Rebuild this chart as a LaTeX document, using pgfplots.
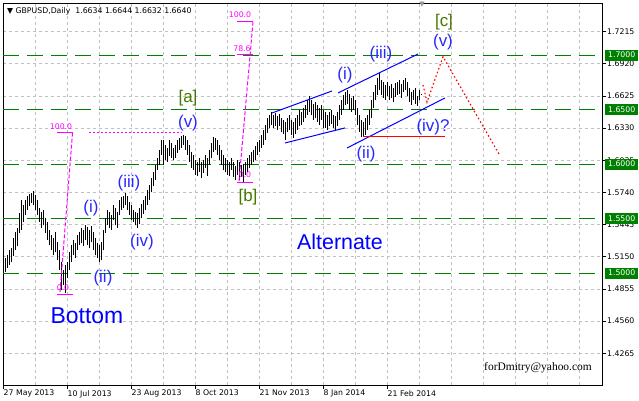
\documentclass[border=0pt]{standalone}
\usepackage{pgfplots}
\usepackage{pgfplotstable}
\pgfplotsset{compat=1.18}
\usepackage{fontspec}
\setmainfont{DejaVu Sans}
\newfontfamily\arial{Liberation Sans}
\newfontfamily\tnr{Liberation Serif}
\definecolor{mtgreen}{RGB}{0,128,0}
\definecolor{wblue}{RGB}{40,40,255}
\definecolor{olv}{RGB}{70,120,0}
\definecolor{mag}{RGB}{255,0,255}
\definecolor{gridgray}{RGB}{192,192,192}
\newcommand{\tf}{\fontsize{7.8}{9}\selectfont}
\pgfplotstableread{
i lo hi
0 1.5010 1.5135
1 1.5043 1.5163
2 1.5071 1.5209
3 1.5098 1.5227
4 1.5153 1.5319
5 1.5209 1.5374
6 1.5245 1.5411
7 1.5365 1.5549
8 1.5393 1.5668
9 1.5466 1.5622
10 1.5530 1.5668
11 1.5576 1.5705
12 1.5613 1.5723
13 1.5640 1.5732
14 1.5622 1.5751
15 1.5576 1.5714
16 1.5530 1.5668
17 1.5466 1.5595
18 1.5411 1.5558
19 1.5438 1.5576
20 1.5365 1.5503
21 1.5301 1.5466
22 1.5255 1.5393
23 1.5209 1.5347
24 1.5163 1.5319
25 1.5190 1.5374
26 1.5117 1.5282
27 1.5025 1.5209
28 1.4841 1.5098
29 1.4887 1.5025
30 1.4814 1.5071
31 1.4951 1.5098
32 1.5025 1.5190
33 1.5098 1.5255
34 1.5163 1.5301
35 1.5135 1.5273
36 1.5209 1.5347
37 1.5255 1.5374
38 1.5273 1.5411
39 1.5245 1.5393
40 1.5301 1.5438
41 1.5255 1.5420
42 1.5227 1.5393
43 1.5282 1.5429
44 1.5209 1.5374
45 1.5163 1.5319
46 1.5135 1.5273
47 1.5098 1.5255
48 1.5117 1.5282
49 1.5209 1.5393
50 1.5365 1.5503
51 1.5438 1.5576
52 1.5411 1.5558
53 1.5393 1.5530
54 1.5484 1.5622
55 1.5438 1.5595
56 1.5411 1.5558
57 1.5530 1.5668
58 1.5576 1.5696
59 1.5595 1.5705
60 1.5622 1.5732
61 1.5576 1.5705
62 1.5530 1.5650
63 1.5484 1.5622
64 1.5466 1.5576
65 1.5438 1.5558
66 1.5411 1.5549
67 1.5448 1.5595
68 1.5503 1.5631
69 1.5539 1.5668
70 1.5576 1.5705
71 1.5622 1.5760
72 1.5668 1.5806
73 1.5742 1.5870
74 1.5797 1.5926
75 1.5852 1.5990
76 1.5944 1.6054
77 1.5990 1.6128
78 1.6082 1.6220
79 1.5990 1.6220
80 1.6036 1.6174
81 1.6018 1.6146
82 1.6073 1.6220
83 1.6054 1.6192
84 1.6036 1.6146
85 1.6054 1.6174
86 1.6101 1.6220
87 1.6128 1.6238
88 1.6146 1.6256
89 1.6174 1.6265
90 1.6128 1.6256
91 1.6082 1.6220
92 1.6018 1.6174
93 1.5963 1.6110
94 1.5944 1.6082
95 1.5898 1.6036
96 1.5889 1.6018
97 1.5926 1.6054
98 1.5870 1.6018
99 1.5917 1.6036
100 1.5963 1.6082
101 1.5889 1.6054
102 1.5990 1.6128
103 1.6054 1.6192
104 1.6110 1.6247
105 1.6128 1.6238
106 1.6082 1.6220
107 1.6036 1.6174
108 1.5990 1.6128
109 1.5944 1.6082
110 1.5926 1.6054
111 1.5898 1.6036
112 1.5889 1.6018
113 1.5944 1.6054
114 1.5880 1.6018
115 1.5852 1.5981
116 1.5898 1.6036
117 1.5852 1.6018
118 1.5880 1.5990
119 1.5834 1.5999
120 1.5898 1.6018
121 1.5926 1.6054
122 1.5963 1.6082
123 1.5990 1.6110
124 1.6018 1.6128
125 1.6036 1.6165
126 1.6082 1.6201
127 1.6110 1.6220
128 1.6146 1.6265
129 1.6174 1.6312
130 1.6220 1.6358
131 1.6284 1.6422
132 1.6330 1.6449
133 1.6358 1.6477
134 1.6330 1.6449
135 1.6348 1.6468
136 1.6312 1.6440
137 1.6348 1.6459
138 1.6293 1.6422
139 1.6275 1.6403
140 1.6220 1.6385
141 1.6293 1.6422
142 1.6312 1.6449
143 1.6266 1.6403
144 1.6238 1.6385
145 1.6275 1.6422
146 1.6312 1.6449
147 1.6348 1.6495
148 1.6358 1.6477
149 1.6385 1.6513
150 1.6422 1.6541
151 1.6449 1.6587
152 1.6477 1.6624
153 1.6449 1.6587
154 1.6403 1.6550
155 1.6422 1.6569
156 1.6385 1.6541
157 1.6358 1.6513
158 1.6403 1.6541
159 1.6330 1.6495
160 1.6330 1.6477
161 1.6312 1.6449
162 1.6348 1.6477
163 1.6367 1.6495
164 1.6330 1.6449
165 1.6303 1.6440
166 1.6348 1.6477
167 1.6403 1.6541
168 1.6449 1.6587
169 1.6495 1.6633
170 1.6541 1.6660
171 1.6550 1.6679
172 1.6495 1.6642
173 1.6477 1.6605
174 1.6495 1.6624
175 1.6449 1.6587
176 1.6358 1.6513
177 1.6293 1.6449
178 1.6247 1.6403
179 1.6256 1.6385
180 1.6266 1.6422
181 1.6312 1.6449
182 1.6358 1.6495
183 1.6422 1.6587
184 1.6513 1.6660
185 1.6587 1.6725
186 1.6633 1.6789
187 1.6679 1.6835
188 1.6633 1.6771
189 1.6605 1.6752
190 1.6587 1.6725
191 1.6624 1.6752
192 1.6587 1.6716
193 1.6605 1.6734
194 1.6569 1.6697
195 1.6614 1.6743
196 1.6633 1.6752
197 1.6642 1.6771
198 1.6605 1.6734
199 1.6660 1.6771
200 1.6679 1.6789
201 1.6624 1.6752
202 1.6569 1.6697
203 1.6541 1.6660
204 1.6587 1.6679
205 1.6550 1.6697
206 1.6532 1.6624
207 1.6587 1.6679
208 1.6632 1.6644
}\bars
\begin{document}
\begin{tikzpicture}
\useasboundingbox (0,0) rectangle (639bp,401bp);
\fill[white] (0,0) rectangle (639bp,401bp);
\begin{axis}[
  at={(3bp,16bp)}, anchor=south west,
  scale only axis, width=599bp, height=382bp,
  xmin=-1, xmax=298.5, ymin=1.3974, ymax=1.7478,
  axis line style={black, line width=0.9bp},
  tick align=outside,
  xtick pos=left, ytick pos=right, yticklabel pos=right,
  xtick={15,31,...,287}, xticklabels={},
  major x tick style={draw=none},
  xmajorgrids, ymajorgrids,
  grid style={gridgray, dash pattern=on 3bp off 3bp, line width=0.9bp},
  extra x ticks={-1,31,63,95,127,159,191},
  extra x tick labels={27 May 2013,10 Jul 2013,23 Aug 2013,8 Oct 2013,21 Nov 2013,8 Jan 2014,21 Feb 2014},
  extra x tick style={grid=none, major tick length=4bp, major x tick style={draw=black, line width=0.9bp},
     xticklabel style={anchor=north west, inner sep=0pt, xshift=0.5bp, yshift=-1bp, font=\tf}},
  ytick={1.4265,1.4560,1.4855,1.5150,1.5445,1.5740,1.6035,1.6330,1.6625,1.6920,1.7215},
  yticklabels={1.4265,1.4560,1.4855,1.5150,1.5445,1.5740,1.6035,1.6330,1.6625,1.6920,1.7215},
  major tick length=4bp,
  major y tick style={draw=black, line width=0.9bp},
  yticklabel style={anchor=west, inner sep=0pt, xshift=1bp, font=\tf},
  clip=false,
]
% green levels
\addplot[mtgreen, line width=1bp, dash pattern=on 16bp off 8bp] coordinates {(-1,1.70) (298.5,1.70)};
\addplot[mtgreen, line width=1bp, dash pattern=on 16bp off 8bp] coordinates {(-1,1.65) (298.5,1.65)};
\addplot[mtgreen, line width=1bp, dash pattern=on 16bp off 8bp] coordinates {(-1,1.60) (298.5,1.60)};
\addplot[mtgreen, line width=1bp, dash pattern=on 16bp off 8bp] coordinates {(-1,1.55) (298.5,1.55)};
\addplot[mtgreen, line width=1bp, dash pattern=on 16bp off 8bp] coordinates {(-1,1.50) (298.5,1.50)};
% bars
\addplot[draw=none, mark=none, error bars/.cd, y dir=plus, y explicit, error mark=none,
   error bar style={draw=black, line width=1bp, solid}]
   table[x=i, y=lo, y error expr=\thisrow{hi}-\thisrow{lo}] {\bars};
% fib 1
\addplot[mag, line width=1bp, dash pattern=on 4bp off 2bp] coordinates {(27.5,1.4826) (33.75,1.6286)};
\addplot[mag, line width=1bp] coordinates {(26,1.6286) (34,1.6286)};
\addplot[mag, line width=1bp] coordinates {(26,1.4808) (34,1.4808)};
\addplot[mag, line width=1bp, dash pattern=on 2bp off 2bp] coordinates {(42,1.6286) (88.5,1.6286)};
% fib 2
\addplot[mag, line width=1bp, dash pattern=on 4bp off 2bp] coordinates {(117,1.5845) (124,1.7304)};
\addplot[mag, line width=1bp] coordinates {(116,1.7304) (124,1.7304)};
\addplot[mag, line width=1bp] coordinates {(116,1.7001) (124,1.7001)};
\addplot[mag, line width=1bp] coordinates {(116,1.5836) (124,1.5836)};
% channels
\addplot[blue, line width=1bp] coordinates {(133.5,1.6469) (163.5,1.6671)};
\addplot[blue, line width=1bp] coordinates {(140,1.6194) (170,1.6332)};
\addplot[blue, line width=1bp] coordinates {(166.5,1.6653) (206.5,1.7010)};
\addplot[blue, line width=1bp] coordinates {(171,1.6148) (220,1.6607)};
% red
\addplot[red, line width=1bp] coordinates {(179,1.6249) (220,1.6249)};
\addplot[red, line width=1.2bp, dash pattern=on 1.5bp off 2.5bp] coordinates {(209,1.6726) (211,1.6570) (219,1.6985) (247,1.6093)};
\coordinate (b170) at (axis cs:298.5,1.70);
\coordinate (b165) at (axis cs:298.5,1.65);
\coordinate (b160) at (axis cs:298.5,1.60);
\coordinate (b155) at (axis cs:298.5,1.55);
\coordinate (b150) at (axis cs:298.5,1.50);
\end{axis}
% level boxes
\foreach \c/\t in {b170/1.7000,b165/1.6500,b160/1.6000,b155/1.5500,b150/1.5000}{
  \node[anchor=west, xshift=3bp, fill=mtgreen, text=white, inner sep=0pt, minimum width=33bp, minimum height=11bp, font=\tf] at (\c) {\t};
}
% title
\node[anchor=west, inner sep=0pt, font=\tf] at (7bp,390bp) {▼ GBPUSD,Daily\ \ 1.6634 1.6644 1.6632 1.6640};
\node[gridgray!80!black, inner sep=0pt, font=\fontsize{7}{8}\selectfont] at (422bp,396bp) {▼};
% fib labels
\begin{scope}[every node/.style={mag, inner sep=0pt, font=\fontsize{7.8}{9}\selectfont}]
\node at (61bp,274.5bp) {100.0};
\node at (63bp,113.5bp) {0.0};
\node at (240bp,386bp) {100.0};
\node at (242bp,352bp) {78.6};
\node at (245bp,226bp) {0.0};
\end{scope}
% wave labels
\begin{scope}[every node/.style={wblue, inner sep=0pt, font=\arial\fontsize{17}{19}\selectfont}]
\node at (91bp,193bp) {(i)};
\node at (103bp,123bp) {(ii)};
\node at (129bp,218bp) {(iii)};
\node at (142bp,159bp) {(iv)};
\node at (188bp,278bp) {(v)};
\node at (345bp,326bp) {(i)};
\node at (366bp,247bp) {(ii)};
\node at (381bp,347bp) {(iii)};
\node at (433bp,274bp) {(iv)?};
\node at (443bp,359bp) {(v)};
\end{scope}
\begin{scope}[every node/.style={olv, inner sep=0pt, font=\arial\fontsize{17}{19}\selectfont}]
\node at (188bp,303bp) {[a]};
\node at (248bp,204bp) {[b]};
\node at (444bp,379bp) {[c]};
\end{scope}
\node[blue, inner sep=0pt, font=\arial\fontsize{23}{26}\selectfont] at (87bp,85bp) {Bottom};
\node[blue, inner sep=0pt, font=\arial\fontsize{21.5}{24}\selectfont] at (340bp,159bp) {Alternate};
\node[black, inner sep=0pt, font=\tnr\fontsize{11.5}{13}\selectfont] at (538bp,33bp) {forDmitry@yahoo.com};
\end{tikzpicture}
\end{document}
